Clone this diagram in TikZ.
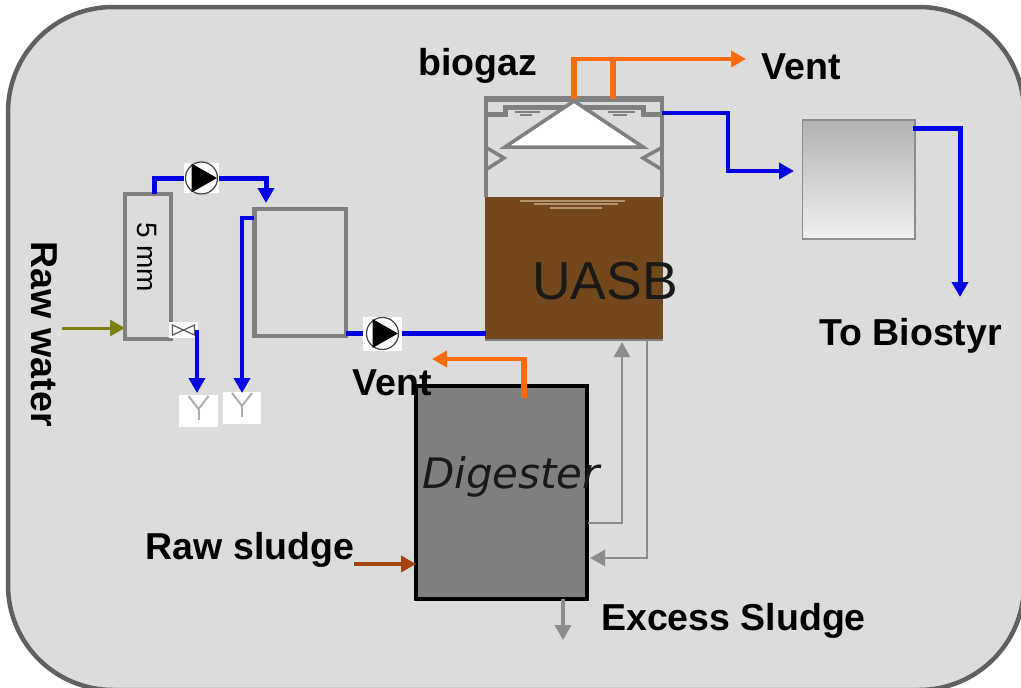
\documentclass[tikz,border=0pt]{standalone}
\usepackage{fontspec}
\setmainfont{Liberation Sans}
\newfontfamily\digfont{DejaVu Sans}
\usetikzlibrary{arrows.meta,shadings}
\definecolor{bgfill}{HTML}{DCDCDC}
\definecolor{frameC}{HTML}{606060}
\definecolor{wallC}{HTML}{808080}
\definecolor{pipeC}{HTML}{0000E6}
\definecolor{gasC}{HTML}{FF6A0D}
\definecolor{oliveC}{HTML}{7F7F10}
\definecolor{sludgeC}{HTML}{A5430F}
\definecolor{brownC}{HTML}{73481C}
\definecolor{tanC}{HTML}{B09470}
\definecolor{digC}{HTML}{7F7F7F}
\definecolor{lineC}{HTML}{8C8C8C}
\tikzset{
  lbl/.style={inner sep=0pt,font=\bfseries\fontsize{37.5}{37.5}\selectfont,text=black},
  tankbox/.style={draw=wallC,line width=3.5pt,inner sep=0pt,outer sep=0pt,anchor=north west},
  pipe/.style={draw=pipeC,line width=5pt},
  flowtip/.style={-{Triangle[length=15pt,width=16pt]}},
  pipearrow/.style={pipe,flowtip},
  gas/.style={draw=gasC,line width=6pt},
  gasarrow/.style={draw=gasC,line width=4pt,flowtip},
  retline/.style={draw=lineC,line width=2pt,flowtip},
  whitebox/.style={fill=white,inner sep=0pt,outer sep=0pt,draw=none},
  pumpbox/.style={whitebox,minimum width=37pt,minimum height=33pt},
  drainbox/.style={whitebox,minimum width=38pt,minimum height=32pt},
  hoodline/.style={draw=wallC,line width=3.5pt},
  ripple/.style={draw=wallC,line width=1.3pt},
  tanline/.style={draw=tanC,line width=1.2pt}
}
\newcommand{\pumpglyph}[1]{%
  \draw[black!75,line width=1.2pt,fill=white] (#1) circle (16pt);
  \fill[black] ([xshift=-10pt,yshift=-14.5pt]#1) -- ([xshift=15.5pt]#1) -- ([xshift=-10pt,yshift=14.5pt]#1) -- cycle;
}
\newcommand{\drainglyph}[1]{%
  \draw[lineC!70,line width=2pt] ([xshift=-10pt,yshift=15pt]#1) -- ([yshift=2pt]#1) -- ([xshift=10pt,yshift=15pt]#1);
  \draw[lineC!70,line width=2pt] ([yshift=2pt]#1) -- ([yshift=-9pt]#1);
}
\begin{document}
\begin{tikzpicture}[x=1pt,y=-1pt]
\useasboundingbox (0,0) rectangle (1021,688);
\begin{scope}
\clip (0,0) rectangle (1021,688);
\draw[frameC,fill=bgfill,line width=4.5pt,rounded corners=105pt] (8,7) rectangle (1024,690);
\end{scope}

% vessels
\node[tankbox,minimum width=46pt,minimum height=145pt] (filter) at (125,194) {};
\node[tankbox,minimum width=92pt,minimum height=127pt] (tankB) at (254,209) {};
\draw[wallC,line width=5pt] (tankB.north west) -- (tankB.south west);
\node[anchor=north west,inner sep=0pt,outer sep=0pt,minimum width=112.5pt,minimum height=119pt,draw=black!45,line width=1.5pt,top color=black!30,bottom color=black!6] (tankC) at (802.5,120) {};
\node[anchor=north west,inner sep=0pt,outer sep=0pt,minimum width=178pt,minimum height=143pt,fill=brownC,draw=none] (sludgebed) at (485,197) {};
\draw[wallC,line width=1.5pt] (sludgebed.south west) -- (sludgebed.south east);
\node[anchor=north west,inner sep=0pt,outer sep=0pt,minimum width=176pt,minimum height=241pt] (uasb) at (486,99) {};
\draw[wallC,line width=4pt] (uasb.west |- sludgebed.north) -- (uasb.north west);
\draw[wallC,line width=3.5pt] (uasb.east |- sludgebed.north) -- (uasb.north east);
\draw[wallC,line width=5.5pt] ([xshift=-2pt]uasb.north west) -- ([xshift=2pt]uasb.north east);
\node[anchor=north west,inner sep=0pt,outer sep=0pt,minimum width=171pt,minimum height=213pt,draw=black,line width=4.5pt,fill=digC] (digester) at (416,386) {};

% pumps, valve, drains
\node[pumpbox,minimum width=35pt,minimum height=30pt] (pumpA) at (201.5,178) {};
\pumpglyph{pumpA.center}
\node[pumpbox,minimum width=39pt,minimum height=34pt] (pumpB) at (382.5,333.5) {};
\pumpglyph{pumpB.center}
\node[whitebox,minimum width=29pt,minimum height=16pt] (valve) at (183.5,330) {};
\draw[black!65,line width=1.2pt] (valve.center) -- ++(-11,-5) -- ++(0,10) -- cycle
  (valve.center) -- ++(11,-5) -- ++(0,10) -- cycle;
\node[drainbox,minimum width=39pt] (drainA) at (198.5,411) {};
\drainglyph{drainA.center}
\node[drainbox] (drainB) at (242,408) {};
\drainglyph{drainB.center}

% ports
\coordinate (pF) at (154,194);
\coordinate (pA) at (266,203);
\coordinate (pB) at (254,218);
\coordinate (pBin) at (242,393);
\coordinate (vOut) at (197,330);
\coordinate (vIn) at (197,393);
\coordinate (gas1) at (574,99);
\coordinate (gas2) at (613,99);
\coordinate (ventA) at (746,59);
\coordinate (uOut) at (662,113);
\coordinate (uBend) at (728,140);
\coordinate (cIn) at (794,171);
\coordinate (cOut) at (913,128);
\coordinate (biost) at (960,297);
\coordinate (rawW) at (62,328);
\coordinate (rawS) at (354,564);
\coordinate (dVentS) at (524,398);
\coordinate (dVentE) at (432,359);
\coordinate (dOut1) at (588,523);
\coordinate (uIn) at (622,342);
\coordinate (uOut2) at (647,340);
\coordinate (dIn) at (590,558);
\coordinate (xsE) at (563,640);

% blue pipes
\draw[pipe] (pF) |- (pumpA.west);
\draw[pipearrow] (pumpA.east) -| (pA);
\draw[pipearrow,line width=4pt] (pB) -| (pBin);
\draw[pipearrow,line width=4.5pt] (vOut) -- (vIn);
\draw[pipe] (tankB.east |- pumpB) -- (pumpB.west);
\draw[pipe] (pumpB.east) -- (uasb.west |- pumpB);
\draw[pipearrow,line width=4pt] (uOut) -| (uBend) |- (cIn);
\draw[pipearrow] (cOut) -| (biost);

% gas
\draw[gas] (gas1) -- (gas1 |- ventA);
\draw[gas] (gas2) -- (gas2 |- ventA);
\draw[gasarrow] ([xshift=-3pt]gas1 |- ventA) -- (ventA);
\draw[gas,line width=5.5pt] (dVentS) -- (dVentS |- dVentE);
\draw[gasarrow] ([xshift=2.75pt]dVentS |- dVentE) -- (dVentE);

% inlet arrows
\draw[draw=oliveC,line width=3pt,flowtip] (rawW) -- (filter.west |- rawW);
\draw[draw=sludgeC,line width=3.5pt,flowtip] (rawS) -- (digester.west |- rawS);

% recycle lines
\draw[retline] (dOut1) -| (uIn);
\draw[retline] (uOut2) |- (dIn);
\draw[retline,line width=3.5pt] (xsE |- digester.south) -- (xsE);

% reactor internals
\draw[hoodline,line width=5pt] (487,114) -- (505,114) -- (505,107.5) -- (643,107.5) -- (643,114) -- (661,114);
\draw[hoodline,fill=white,line join=miter] (574,101) -- (643,147) -- (505,147) -- cycle;
\draw[hoodline] (487,148) -- (504,158) -- (487,169);
\draw[hoodline] (661,148) -- (643,158) -- (661,169);
\draw[ripple] (515,112) -- (540,112) (520,115) -- (532,115) (608,112) -- (635,112) (613,115) -- (627,115);
\draw[tanline] (520,201) -- (625,201) (534,204) -- (618,204) (550,208) -- (602,208);

% labels
\node[inner sep=0pt,font=\fontsize{53.5}{53.5}\selectfont,text=black!90] (uasbT) at (605,281) {UASB};
\node[inner sep=0pt,font=\digfont\itshape\fontsize{42}{42}\selectfont,text=black!90] (digT) at (511,477) {Digester};
\node[inner sep=0pt,rotate=-90,font=\fontsize{28}{28}\selectfont] (fiveT) at (147,257) {5 mm};
\node[lbl] (biogazT) at (478,66) {biogaz};
\node[lbl] (ventT1) at (801.5,67) {Vent};
\node[lbl] (ventT2) at (392,383) {Vent};
\node[lbl] (biostT) at (910.5,336) {To Biostyr};
\node[lbl] (rsT) at (250,550) {Raw sludge};
\node[lbl] (xsT) at (733.5,621) {Excess Sludge};
\node[lbl,rotate=-90] (rwT) at (44,334) {Raw water};
\end{tikzpicture}
\end{document}
